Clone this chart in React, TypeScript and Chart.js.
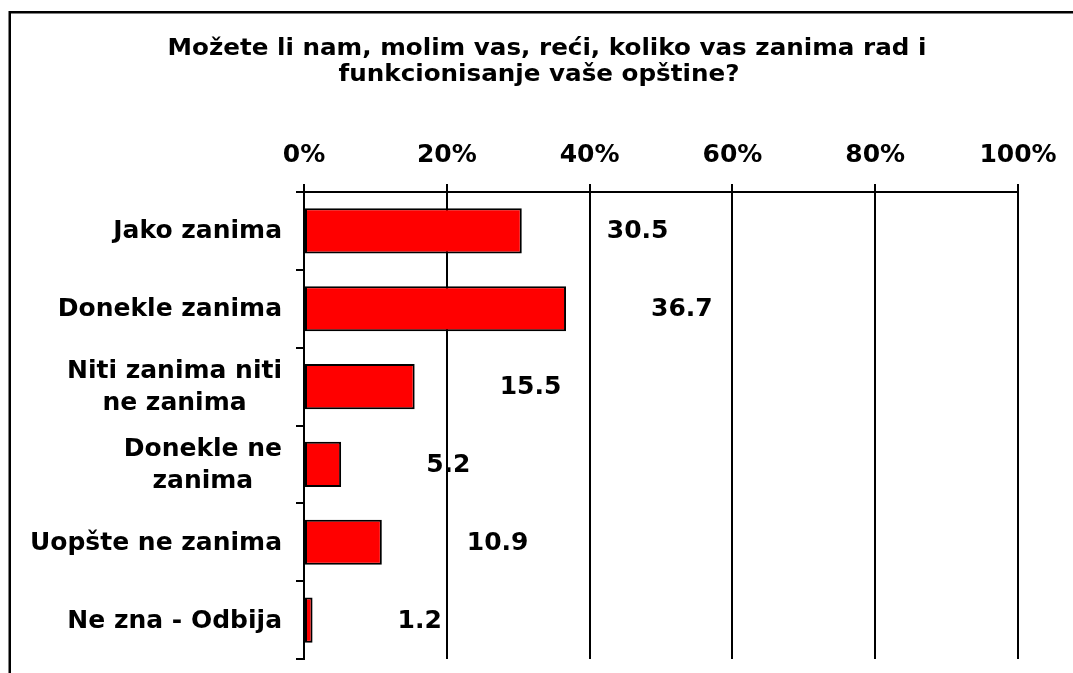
import React, { useEffect, useRef } from "react";
import { Chart, registerables } from "chart.js";

Chart.register(...registerables);

const TITLE_LINES = [
  "Možete li nam, molim vas, reći, koliko vas zanima rad i",
  "funkcionisanje vaše opštine?",
];
const CATEGORIES: string[][] = [
  ["Jako zanima"],
  ["Donekle zanima"],
  ["Niti zanima niti", "ne zanima"],
  ["Donekle ne", "zanima"],
  ["Uopšte ne zanima"],
  ["Ne zna - Odbija"],
];
const VALUES = [30.5, 36.7, 15.5, 5.2, 10.9, 1.2];
const X_MIN = 0;
const X_MAX = 100;
const X_STEP = 20;

const FONT = "'DejaVu Sans', Verdana, sans-serif";

export default function App() {
  const ref = useRef<HTMLCanvasElement | null>(null);

  useEffect(() => {
    if (!ref.current) return;

    const framePlugin = {
      id: "frame",
      beforeDraw(chart: any) {
        const ctx = chart.ctx;
        ctx.save();
        ctx.fillStyle = "#ffffff";
        ctx.fillRect(0, 0, chart.width, chart.height);
        ctx.strokeStyle = "#000000";
        ctx.lineWidth = 2.5;
        ctx.beginPath();
        ctx.moveTo(9.75, chart.height);
        ctx.lineTo(9.75, 12.25);
        ctx.lineTo(chart.width, 12.25);
        ctx.stroke();
        // title
        ctx.fillStyle = "#000000";
        ctx.font = `bold 23px ${FONT}`;
        ctx.textAlign = "center";
        ctx.textBaseline = "alphabetic";
        const sx = 1.07;
        ctx.save();
        ctx.translate(547, 55);
        ctx.scale(sx, 1);
        ctx.fillText(TITLE_LINES[0], 0, 0);
        ctx.restore();
        ctx.save();
        ctx.translate(539, 81);
        ctx.scale(sx, 1);
        ctx.fillText(TITLE_LINES[1], 0, 0);
        ctx.restore();
        ctx.restore();
      },
    };

    const labelsPlugin = {
      id: "labels",
      afterDraw(chart: any) {
        const ctx = chart.ctx;
        const yScale = chart.scales.y;
        ctx.save();
        ctx.fillStyle = "#000000";
        // category labels
        ctx.font = `bold 25px ${FONT}`;
        ctx.textBaseline = "middle";
        ctx.textAlign = "center";
        CATEGORIES.forEach((lines, i) => {
          const cy = yScale.getPixelForTick(i) + 1;
          let widest = 0;
          lines.forEach((l) => {
            widest = Math.max(widest, ctx.measureText(l).width);
          });
          const cx = 282 - widest / 2;
          const lh = 32;
          lines.forEach((l, j) => {
            ctx.fillText(l, cx, cy + (j - (lines.length - 1) / 2) * lh);
          });
        });
        // value labels
        const meta = chart.getDatasetMeta(0);
        ctx.font = `bold 25px ${FONT}`;
        ctx.textAlign = "left";
        meta.data.forEach((el: any, i: number) => {
          ctx.fillText(VALUES[i].toFixed(1), el.x + 85, el.y + 1);
        });
        ctx.restore();
      },
    };

    const chart = new Chart(ref.current, {
      type: "bar",
      data: {
        labels: CATEGORIES.map((c) => c.join(" ")),
        datasets: [
          {
            data: VALUES,
            backgroundColor: "#ff0000",
            borderColor: "#000000",
            borderWidth: 2,
            borderSkipped: false,
            categoryPercentage: 1,
            barPercentage: 0.58,
          },
        ],
      },
      options: {
        indexAxis: "y",
        responsive: false,
        animation: false,
        layout: { padding: { left: 0, right: 55, top: 0, bottom: 14 } },
        plugins: {
          legend: { display: false },
          tooltip: { enabled: false },
          title: { display: false },
        },
        scales: {
          x: {
            position: "top",
            min: X_MIN,
            max: X_MAX,
            ticks: {
              stepSize: X_STEP,
              callback: (v: any) => `${v}%`,
              color: "#000000",
              font: { family: FONT, size: 25, weight: "bold" },
              padding: 14,
              maxRotation: 0,
            },
            grid: {
              color: "#000000",
              lineWidth: 2,
              tickLength: 8,
            },
            border: { color: "#000000", width: 2 },
            afterFit: (s: any) => {
              s.height = 192;
            },
          },
          y: {
            ticks: { display: false },
            grid: {
              offset: true,
              drawOnChartArea: false,
              color: "#000000",
              lineWidth: 2,
              tickLength: 8,
            },
            border: { color: "#000000", width: 2 },
            afterFit: (s: any) => {
              s.width = 304;
            },
          },
        },
      },
      plugins: [framePlugin, labelsPlugin],
    } as any);

    return () => chart.destroy();
  }, []);

  return (
    <canvas
      ref={ref}
      width={1073}
      height={673}
      style={{ position: "fixed", left: 0, top: 0, width: 1073, height: 673 }}
    />
  );
}
